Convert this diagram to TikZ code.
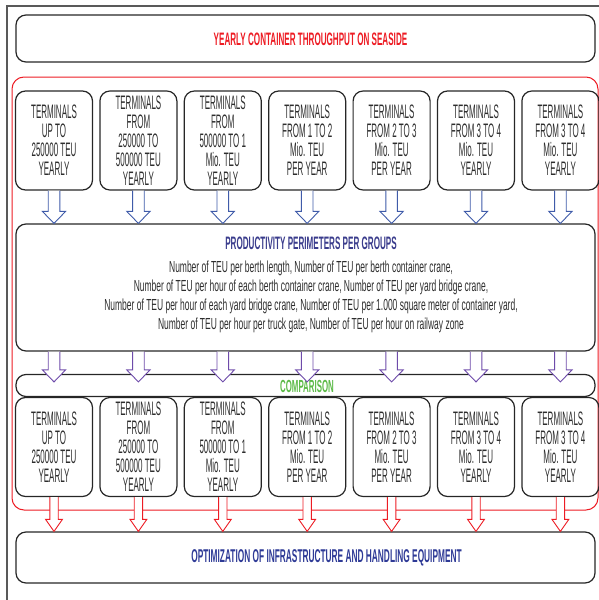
\documentclass[tikz,border=0pt]{standalone}
\usepackage{fontspec}
\usetikzlibrary{positioning,calc}
\newfontfamily\narrowfont[FakeStretch=0.41]{Liberation Sans}
\newfontfamily\headfont[FakeStretch=0.45]{Liberation Sans}
\newfontfamily\paramfont[FakeStretch=0.53]{Liberation Sans}
\definecolor{titlered}{RGB}{237,28,36}
\definecolor{groupblue}{RGB}{58,60,140}
\definecolor{optblue}{RGB}{46,58,150}
\definecolor{compgreen}{RGB}{92,186,72}
\definecolor{arrowblue}{RGB}{63,91,169}
\definecolor{arrowpurple}{RGB}{110,75,170}
\definecolor{textgray}{RGB}{45,45,45}
\tikzset{
  wide/.style={draw=black!85, line width=1.2pt, rounded corners=10pt, minimum width=579pt, inner sep=0pt},
  term/.style={draw=black!85, line width=1.2pt, rounded corners=10pt, minimum width=77pt, minimum height=99pt,
    inner sep=0pt, align=center, text=textgray, font=\narrowfont\fontsize{19.5}{19}\selectfont},
  headline/.style={font=\headfont\bfseries\fontsize{#1}{19}\selectfont, inner sep=0pt},
  fatarrow/.style 2 args={draw=#1, fill=white, line width=0.9pt,
    to path={let \p1=(\tikztostart), \p2=(\tikztotarget) in
      (\x1-#2,\y1) -- (\x1-#2,\y2+12pt) -- (\x1-2*#2,\y2+12pt) -- (\x1,\y2)
      -- (\x1+2*#2,\y2+12pt) -- (\x1+#2,\y2+12pt) -- (\x1+#2,\y1)}},
  bluearrow/.style={fatarrow={arrowblue}{5.8pt}},
  purplearrow/.style={fatarrow={arrowpurple}{5.8pt}},
  redarrow/.style={fatarrow={titlered}{4.2pt}}
}
\begin{document}
\begin{tikzpicture}[x=1pt,y=-1pt]
  \useasboundingbox (0,0) rectangle (599,600);
  % Frames
  \draw[black!65, line width=2pt] (7,620) -- (7,6) -- (620,6);
  \draw[titlered, line width=1pt, rounded corners=12pt] (12,77) rectangle (598,510);
  % Define nodes
  \node[wide, minimum height=47pt] (year) at (305.5,38.5) {};
  \node[headline=18, text=titlered] (yeartitle) at (310.5,39) {YEARLY CONTAINER THROUGHPUT ON SEASIDE};
  \node[term] (t1) at (54,140.5) {TERMINALS\\UP TO\\250000 TEU\\YEARLY};
  \node[term, right=6.2pt of t1] (t2) {TERMINALS\\FROM\\250000 TO\\500000 TEU\\YEARLY};
  \node[term, right=6.2pt of t2] (t3) {TERMINALS\\FROM\\500000 TO 1\\Mio. TEU\\YEARLY};
  \node[term, right=6.2pt of t3] (t4) {TERMINALS\\FROM 1 TO 2\\Mio. TEU\\PER YEAR};
  \node[term, right=6.2pt of t4] (t5) {TERMINALS\\FROM 2 TO 3\\Mio. TEU\\PER YEAR};
  \node[term, right=6.2pt of t5] (t6) {TERMINALS\\FROM 3 TO 4\\Mio. TEU\\YEARLY};
  \node[term, right=6.2pt of t6] (t7) {TERMINALS\\FROM 3 TO 4\\Mio. TEU\\YEARLY};
  \node[wide, minimum height=127pt] (prod) at (305.5,287.5) {};
  \node[headline=18, text=groupblue] (prodtitle) at (311,243) {PRODUCTIVITY PERIMETERS PER GROUPS};
  \node[text=textgray, align=center, font=\paramfont\fontsize{16}{19}\selectfont, below=8pt of prodtitle]
    (params) {Number of TEU per berth length, Number of TEU per berth container crane,\\
      Number of TEU per hour of each berth container crane, Number of TEU per yard bridge crane,\\
      Number of TEU per hour of each yard bridge crane, Number of TEU per 1.000 square meter of container yard,\\
      Number of TEU per hour per truck gate, Number of TEU per hour on railway zone};
  \node[wide, minimum height=22pt] (comp) at (305.5,385.5) {};
  \node[headline=17.5, text=compgreen] (comptitle) at (307,386) {COMPARISON};
  \node[term] (b1) at (54,447) {TERMINALS\\UP TO\\250000 TEU\\YEARLY};
  \node[term, right=6.2pt of b1] (b2) {TERMINALS\\FROM\\250000 TO\\500000 TEU\\YEARLY};
  \node[term, right=6.2pt of b2] (b3) {TERMINALS\\FROM\\500000 TO 1\\Mio. TEU\\YEARLY};
  \node[term, right=6.2pt of b3] (b4) {TERMINALS\\FROM 1 TO 2\\Mio. TEU\\PER YEAR};
  \node[term, right=6.2pt of b4] (b5) {TERMINALS\\FROM 2 TO 3\\Mio. TEU\\PER YEAR};
  \node[term, right=6.2pt of b5] (b6) {TERMINALS\\FROM 3 TO 4\\Mio. TEU\\YEARLY};
  \node[term, right=6.2pt of b6] (b7) {TERMINALS\\FROM 3 TO 4\\Mio. TEU\\YEARLY};
  \node[wide, minimum height=51pt] (opt) at (305.5,557.5) {};
  \node[headline=18.5, text=optblue] (opttitle) at (326.5,558) {OPTIMIZATION OF INFRASTRUCTURE AND HANDLING EQUIPMENT};
  % Connect nodes
  \draw[bluearrow] (t1.south) to (t1.south |- prod.north);
  \draw[bluearrow] (t2.south) to (t2.south |- prod.north);
  \draw[bluearrow] (t3.south) to (t3.south |- prod.north);
  \draw[bluearrow] (t4.south) to (t4.south |- prod.north);
  \draw[bluearrow] (t5.south) to (t5.south |- prod.north);
  \draw[bluearrow] (t6.south) to (t6.south |- prod.north);
  \draw[bluearrow] (t7.south) to (t7.south |- prod.north);
  \draw[purplearrow] (prod.south -| b1) to ($(comp.north -| b1)+(0,8)$);
  \draw[purplearrow] (prod.south -| b2) to ($(comp.north -| b2)+(0,8)$);
  \draw[purplearrow] (prod.south -| b3) to ($(comp.north -| b3)+(0,8)$);
  \draw[purplearrow] (prod.south -| b4) to ($(comp.north -| b4)+(0,8)$);
  \draw[purplearrow] (prod.south -| b5) to ($(comp.north -| b5)+(0,8)$);
  \draw[purplearrow] (prod.south -| b6) to ($(comp.north -| b6)+(0,8)$);
  \draw[purplearrow] (prod.south -| b7) to ($(comp.north -| b7)+(0,8)$);
  \draw[redarrow] (b1.south) to (b1.south |- opt.north);
  \draw[redarrow] (b2.south) to (b2.south |- opt.north);
  \draw[redarrow] (b3.south) to (b3.south |- opt.north);
  \draw[redarrow] (b4.south) to (b4.south |- opt.north);
  \draw[redarrow] (b5.south) to (b5.south |- opt.north);
  \draw[redarrow] (b6.south) to (b6.south |- opt.north);
  \draw[redarrow] (b7.south) to (b7.south |- opt.north);
\end{tikzpicture}
\end{document}
